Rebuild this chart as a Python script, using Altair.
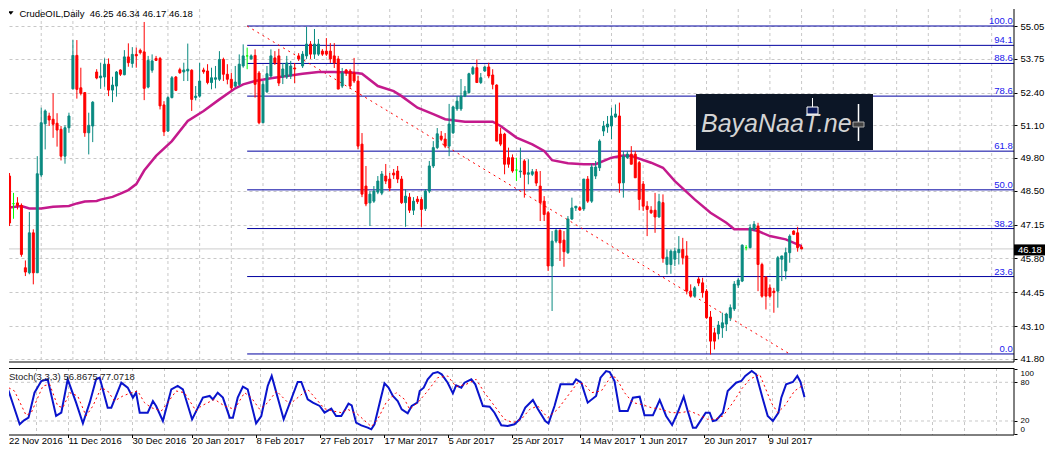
import altair as alt
import pandas as pd

FONT = "Liberation Sans"

# ---------------- candles (daily bars, index 0 = 22 Nov 2016) ----------------
opens = [49.08, 47.98, 48.01, 47.91, 45.43, 45.23, 46.82, 45.23, 49.12, 51.16,
         51.47, 51.34, 51.18, 50.94, 49.87, 51.00, 52.55, 53.88, 52.59, 52.40,
         50.80, 51.07, 53.22, 52.99, 53.02, 53.53, 52.50, 52.66, 53.30, 53.11,
         53.82, 53.56, 53.92, 54.08, 54.02, 52.62, 53.29, 53.76, 53.76, 51.91,
         50.87, 52.20, 53.02, 53.31, 53.22, 53.26, 53.29, 52.20, 52.26, 53.30,
         53.26, 52.80, 52.93, 52.93, 53.72, 53.13, 52.93, 52.66, 52.73, 53.46,
         53.86, 53.74, 53.88, 53.18, 51.20, 52.43, 53.06, 53.78, 53.86, 53.02,
         53.02, 53.06, 53.38, 53.86, 53.46, 53.86, 54.33, 53.93, 53.93, 54.05,
         54.05, 54.05, 53.86, 53.74, 52.66, 53.30, 53.26, 53.18, 52.86, 50.35,
         48.68, 48.01, 48.08, 48.44, 48.40, 49.08, 48.96, 49.20, 49.28, 48.96,
         48.02, 48.24, 47.72, 48.16, 48.15, 47.78, 48.48, 49.48, 50.21, 50.67,
         50.55, 50.27, 50.80, 51.75, 51.75, 52.26, 52.40, 53.15, 53.39, 52.80,
         53.26, 53.42, 53.10, 52.70, 50.75, 50.75, 49.81, 49.81, 49.32, 49.25,
         49.68, 49.15, 49.15, 49.25, 48.68, 48.08, 47.62, 45.50, 46.49, 46.92,
         46.53, 46.03, 47.37, 47.81, 47.82, 47.77, 48.96, 48.08, 49.08, 49.41,
         50.87, 51.03, 51.07, 51.43, 51.47, 48.81, 49.81, 49.95, 49.95, 49.61,
         48.76, 47.88, 47.72, 47.72, 47.45, 48.02, 45.56, 45.56, 45.77, 46.03,
         46.16, 45.90, 44.50, 44.30, 44.98, 44.83, 44.50, 43.47, 42.84, 42.80,
         43.04, 43.19, 43.44, 43.79, 44.74, 44.90, 46.23, 46.23, 46.96, 47.09,
         45.56, 45.06, 44.63, 44.50, 44.50, 45.77, 45.30, 46.03, 46.89, 46.82,
         46.25]
highs = [49.20, 48.41, 48.24, 47.99, 45.72, 47.65, 46.96, 49.87, 51.80, 51.73,
         51.60, 52.37, 51.58, 51.07, 51.10, 51.60, 54.49, 54.49, 53.39, 52.42,
         51.60, 52.06, 53.33, 53.59, 53.76, 53.76, 53.03, 53.26, 53.33, 54.09,
         54.36, 54.21, 54.19, 54.15, 55.21, 53.86, 53.92, 53.86, 53.82, 52.06,
         52.26, 53.06, 53.06, 53.39, 53.59, 54.35, 53.33, 52.66, 53.59, 53.39,
         53.53, 53.39, 53.46, 54.05, 53.79, 53.53, 53.19, 53.46, 53.92, 54.32,
         54.19, 53.92, 54.12, 53.26, 52.86, 53.46, 54.12, 54.05, 54.14, 53.58,
         53.86, 53.66, 53.58, 53.97, 54.05, 55.02, 54.45, 54.93, 54.53, 54.13,
         54.57, 54.37, 54.37, 53.86, 53.38, 53.34, 53.34, 53.78, 53.06, 50.79,
         49.48, 48.48, 48.68, 49.08, 49.28, 49.56, 49.20, 49.36, 49.48, 49.08,
         48.56, 48.40, 48.24, 48.28, 48.24, 48.56, 49.68, 50.47, 50.99, 50.87,
         50.79, 51.95, 51.87, 52.26, 52.94, 52.66, 53.19, 53.46, 53.72, 53.18,
         53.46, 53.59, 53.33, 52.73, 51.00, 50.80, 50.21, 49.94, 49.81, 50.21,
         49.75, 49.75, 49.36, 49.36, 49.28, 48.28, 47.69, 46.89, 46.97, 46.96,
         46.89, 47.49, 48.22, 47.88, 47.88, 48.96, 49.08, 49.56, 49.68, 50.54,
         51.27, 51.47, 51.80, 51.93, 52.00, 50.07, 50.07, 50.27, 50.07, 49.68,
         48.88, 48.08, 47.88, 48.41, 48.37, 48.35, 46.16, 46.16, 46.23, 46.69,
         46.62, 46.49, 44.77, 44.70, 45.06, 45.03, 44.58, 43.71, 43.04, 43.31,
         43.64, 43.64, 43.97, 44.90, 45.03, 46.36, 46.33, 47.16, 47.29, 47.22,
         45.63, 45.10, 44.77, 44.63, 45.90, 45.90, 46.23, 46.76, 46.92, 47.06,
         46.34]
lows = [47.09, 47.38, 47.75, 45.87, 45.10, 45.17, 44.77, 45.22, 49.04, 50.14,
        51.07, 50.60, 50.25, 49.70, 49.57, 50.80, 52.53, 52.16, 52.29, 50.64,
        49.94, 50.43, 52.93, 52.55, 52.63, 52.26, 52.02, 52.24, 53.06, 53.09,
        53.43, 53.39, 53.39, 53.92, 52.10, 52.57, 53.19, 53.66, 51.73, 50.67,
        50.84, 52.17, 52.46, 53.15, 52.86, 52.86, 51.67, 52.09, 52.20, 53.15,
        52.73, 52.53, 52.57, 52.86, 52.86, 52.73, 52.49, 52.62, 52.66, 53.39,
        53.33, 53.72, 52.20, 51.14, 51.19, 52.39, 52.99, 53.50, 52.66, 52.74,
        52.94, 52.94, 52.78, 53.66, 53.38, 53.74, 53.74, 53.74, 53.86, 53.86,
        53.86, 53.58, 53.38, 52.54, 52.58, 53.06, 52.54, 52.78, 50.15, 48.24,
        47.88, 47.09, 48.01, 48.36, 48.32, 48.76, 48.48, 48.96, 48.80, 47.97,
        47.06, 47.61, 47.53, 47.97, 47.06, 47.69, 48.40, 49.40, 50.15, 50.47,
        50.19, 49.87, 50.75, 51.67, 51.67, 52.22, 52.36, 53.10, 52.80, 52.74,
        53.23, 52.97, 52.53, 50.47, 50.27, 49.15, 49.41, 49.21, 48.88, 49.01,
        48.22, 48.75, 49.08, 48.68, 47.29, 47.29, 45.30, 43.71, 46.41, 45.70,
        45.47, 45.98, 47.33, 47.69, 47.69, 47.69, 48.01, 48.01, 48.96, 49.28,
        50.67, 50.80, 50.54, 51.40, 48.41, 48.22, 49.76, 49.55, 49.01, 47.72,
        47.69, 46.69, 47.57, 46.82, 47.42, 45.63, 45.17, 45.19, 45.50, 45.56,
        45.56, 44.37, 44.24, 44.24, 44.70, 44.24, 43.40, 41.98, 42.18, 42.58,
        42.64, 42.91, 43.31, 43.71, 44.63, 44.86, 46.12, 46.20, 46.89, 44.50,
        44.24, 43.77, 44.24, 43.64, 43.84, 44.90, 44.97, 45.63, 46.73, 46.07,
        46.17]
closes = [47.21, 47.98, 47.91, 45.96, 45.26, 46.82, 45.23, 49.17, 51.20, 51.67,
          51.31, 51.14, 50.91, 49.87, 51.00, 51.47, 53.88, 52.53, 52.37, 50.80,
          51.10, 52.02, 52.98, 53.06, 53.53, 52.50, 52.70, 53.22, 53.13, 53.82,
          53.59, 53.92, 53.86, 53.99, 52.57, 53.68, 53.66, 53.68, 51.87, 50.84,
          52.20, 52.99, 52.49, 53.19, 53.30, 53.33, 52.13, 52.26, 52.86, 53.23,
          52.80, 52.99, 52.99, 53.72, 53.13, 52.93, 52.59, 52.82, 53.53, 53.86,
          53.86, 53.86, 52.73, 51.20, 52.73, 53.15, 53.86, 53.58, 52.78, 53.34,
          53.58, 53.46, 53.34, 53.74, 53.93, 54.33, 53.93, 54.33, 54.33, 53.93,
          53.93, 53.74, 53.58, 52.54, 53.18, 53.18, 52.66, 52.86, 50.27, 48.36,
          47.97, 48.36, 48.48, 48.88, 49.16, 48.88, 48.60, 49.12, 48.96, 48.02,
          48.28, 47.72, 48.08, 48.06, 47.75, 48.48, 49.48, 50.21, 50.76, 50.54,
          50.27, 51.15, 51.83, 52.06, 52.26, 52.46, 53.15, 53.39, 52.80, 52.99,
          53.42, 53.06, 52.73, 50.47, 50.35, 49.55, 49.55, 49.28, 49.32, 49.28,
          49.15, 49.21, 49.25, 48.80, 48.02, 47.55, 45.50, 46.49, 46.92, 46.42,
          46.07, 47.37, 47.81, 47.88, 47.73, 48.96, 48.08, 49.44, 49.44, 50.47,
          51.07, 51.15, 51.47, 51.55, 48.80, 49.87, 49.95, 49.55, 49.01, 48.15,
          47.88, 47.75, 47.62, 47.45, 48.06, 45.80, 45.85, 46.09, 46.09, 46.16,
          45.83, 44.50, 44.30, 44.63, 44.82, 44.44, 43.44, 42.51, 42.51, 43.15,
          43.24, 43.59, 43.84, 44.78, 44.94, 46.33, 46.23, 47.02, 47.16, 45.56,
          44.30, 44.30, 44.30, 44.44, 45.83, 45.90, 46.03, 46.69, 46.76, 46.23,
          46.18]

# moving average, read at vertices (bar index, price)
ma_idx = [0, 3, 5, 8, 11, 15, 17, 19, 22, 23, 26, 28, 30, 32, 34, 37, 41, 45, 49, 53,
          57, 59, 62, 66, 70, 74, 78, 82, 87, 89, 93, 97, 99, 103, 107, 110, 115, 122,
          124, 128, 132, 135, 137, 141, 145, 148, 152, 155, 157, 162, 165, 168, 173,
          177, 181, 183, 187, 189, 192, 196, 200]
ma_val = [47.83, 47.89, 47.79, 47.79, 47.86, 47.89, 47.99, 48.07, 48.09, 48.14, 48.25,
          48.38, 48.52, 48.76, 49.30, 49.88, 50.47, 51.27, 51.67, 52.13, 52.57, 52.73,
          52.86, 52.97, 53.06, 53.15, 53.22, 53.22, 53.19, 53.15, 52.66, 52.46, 52.26,
          51.80, 51.54, 51.34, 51.24, 51.24, 51.07, 50.61, 50.34, 50.08, 49.71, 49.59,
          49.55, 49.55, 49.81, 49.90, 49.88, 49.61, 49.41, 48.88, 48.15, 47.62, 47.22,
          46.96, 46.96, 46.89, 46.69, 46.56, 46.29]

# Fibonacci retracement
fib_labels = ["100.0", "94.1", "88.6", "78.6", "61.8", "50.0", "38.2", "23.6", "0.0"]
fib_prices = [55.05, 54.28, 53.56, 52.26, 50.07, 48.53, 46.99, 45.08, 42.00]
fib_start = 60
trend_idx = [60, 197]
trend_price = [55.05, 42.00]

last_price = 46.18
price_ticks = [55.05, 53.75, 52.40, 51.10, 49.80, 48.50, 47.15, 45.80, 44.45, 43.10, 41.80]
grid_idx = list(range(8, 253, 8))
date_idx = [0, 16, 32, 47, 63, 79, 95, 111, 127, 144, 159, 175, 191]
date_labels = ["22 Nov 2016", "11 Dec 2016", "30 Dec 2016", "20 Jan 2017", "8 Feb 2017",
               "27 Feb 2017", "17 Mar 2017", "5 Apr 2017", "25 Apr 2017", "14 May 2017",
               "1 Jun 2017", "20 Jun 2017", "9 Jul 2017"]

# Stochastic (3,3,3) vertices
k_idx = [0, 3.8, 4.9, 6.0, 7.5, 9.2, 10.8, 12.9, 14.2, 15.8, 17.9, 19.6, 21.3, 22.9, 23.8,
         25.8, 26.7, 29.2, 30.8, 32.1, 32.9, 33.8, 35.8, 37.1, 37.9, 39.6, 41.7, 43.3, 44.6,
         46.9, 49.6, 51.3, 52.1, 53.3, 54.6, 56.3, 57.1, 58.3, 59.6, 60.8, 62.9, 64.2, 65.8,
         66.8, 69.8, 73.3, 74.2, 75.8, 77.1, 78.8, 80.0, 81.7, 82.9, 84.2, 85.2, 86.0, 86.8,
         87.9, 89.2, 90.8, 91.7, 92.5, 93.8, 95.0, 96.0, 97.1, 98.3, 99.3, 100.8, 101.8,
         103.2, 103.8, 104.8, 105.8, 107.1, 108.3, 109.3, 110.8, 112.1, 112.9, 114.2, 115.0,
         116.7, 117.7, 119.6, 121.3, 122.5, 124.2, 125.8, 127.5, 128.8, 130.2, 132.1, 133.3,
         135.2, 136.0, 137.5, 139.0, 142.1, 142.9, 144.2, 145.8, 147.9, 149.0, 150.4, 151.3,
         152.5, 153.8, 155.8, 157.1, 158.8, 160.0, 162.1, 163.8, 165.4, 166.9, 168.3, 169.8,
         170.8, 172.1, 172.9, 175.3, 176.3, 177.1, 177.9, 179.6, 180.8, 182.9, 184.2, 185.2,
         186.8, 187.9, 189.6, 190.8, 192.1, 193.5, 194.2, 195.4, 197.1, 198.2, 199.0, 200.0]
k_val = [85.6, 14.9, 21.0, 25.2, 63.9, 82.0, 84.6, 27.8, 32.9, 84.6, 48.4, 16.4, 48.4, 84.6,
         87.2, 40.7, 40.7, 79.4, 71.7, 56.2, 63.9, 32.9, 32.9, 51.0, 43.3, 20.0, 69.1, 74.3,
         69.1, 22.6, 56.2, 58.8, 53.6, 63.9, 56.2, 25.2, 25.2, 56.2, 73.2, 69.1, 16.4, 27.8,
         74.3, 89.8, 22.6, 80.5, 80.5, 53.6, 48.4, 43.3, 32.9, 39.1, 27.8, 27.8, 38.1, 46.9,
         44.3, 17.4, 13.3, 9.7, 7.1, 14.9, 48.4, 78.4, 71.7, 58.8, 51.0, 38.1, 31.9, 43.3,
         48.4, 66.5, 71.7, 84.6, 93.9, 96.0, 92.4, 79.4, 62.9, 75.3, 71.7, 79.4, 84.6, 76.8,
         43.3, 42.2, 32.9, 13.3, 12.3, 14.9, 22.6, 40.7, 52.6, 39.1, 20.0, 16.4, 43.3, 76.8,
         76.8, 84.6, 79.4, 48.4, 58.8, 87.2, 97.5, 96.0, 82.0, 35.5, 35.5, 56.2, 57.7, 28.8,
         28.8, 52.6, 27.8, 13.8, 32.9, 57.7, 35.5, 9.7, 9.7, 32.9, 32.9, 20.0, 21.0, 32.9,
         66.5, 79.4, 82.0, 89.8, 97.5, 92.4, 53.6, 27.8, 20.0, 32.9, 56.2, 76.8, 80.5, 89.8,
         80.5, 56.9]
d_idx = [0, 2.5, 5.4, 6.7, 9.6, 11.3, 13.3, 14.6, 16.3, 18.3, 20.4, 22.1, 24.2, 25.8, 27.5,
         29.6, 31.7, 33.3, 35.0, 36.7, 39.2, 40.8, 42.9, 45.0, 47.9, 49.2, 52.5, 55.0, 57.5,
         60.0, 61.7, 63.8, 65.8, 68.0, 71.3, 75.8, 80.0, 82.1, 84.2, 85.8, 88.3, 91.7, 93.3,
         95.4, 97.9, 100.0, 101.3, 103.3, 105.8, 108.3, 110.8, 112.9, 115.4, 117.9, 120.0,
         122.5, 125.0, 127.1, 129.2, 131.3, 133.3, 135.8, 138.3, 140.8, 143.3, 145.0, 146.7,
         149.2, 151.7, 152.9, 155.0, 157.1, 159.2, 161.7, 164.2, 166.7, 169.2, 171.3, 173.3,
         175.8, 177.5, 179.6, 182.1, 184.2, 186.3, 188.8, 190.0, 191.7, 193.3, 195.0, 197.5,
         200.0]
d_val = [75.3, 66.5, 28.8, 32.9, 74.3, 76.8, 43.3, 40.7, 63.9, 58.8, 27.8, 43.3, 71.7, 66.5,
         51.0, 58.8, 63.9, 66.5, 48.4, 40.7, 35.5, 48.4, 66.5, 63.9, 35.5, 43.3, 53.6, 43.3,
         38.1, 63.9, 56.2, 38.1, 48.4, 66.5, 45.8, 69.1, 39.1, 35.5, 32.9, 38.1, 30.3, 11.3,
         22.6, 48.4, 63.9, 53.6, 38.1, 48.4, 66.5, 87.2, 89.8, 73.2, 76.8, 84.6, 63.9, 43.3,
         22.6, 17.4, 22.6, 38.1, 43.3, 25.2, 38.1, 58.8, 79.4, 76.8, 63.9, 66.5, 89.8, 87.2,
         63.9, 48.4, 45.8, 40.7, 38.1, 32.9, 32.9, 35.5, 30.3, 22.6, 22.6, 27.8, 48.4, 69.1,
         84.6, 92.4, 74.3, 48.4, 32.9, 43.3, 66.5, 77.1]

# ---------------- frames ----------------
dirs = ["up" if c > o else ("down" if c < o else "doji") for o, c in zip(opens, closes)]
candles = pd.DataFrame({"i": range(len(opens)), "o": opens, "h": highs, "l": lows,
                        "c": closes, "dir": dirs})
ma_df = pd.DataFrame({"i": ma_idx, "v": ma_val})
fib_df = pd.DataFrame({"label": fib_labels, "price": fib_prices, "start": fib_start})
trend_df = pd.DataFrame({"i": trend_idx, "p": trend_price})
grid_df = pd.DataFrame({"i": grid_idx})
k_df = pd.DataFrame({"i": k_idx, "v": k_val})
d_df = pd.DataFrame({"i": d_idx, "v": d_val})
dates_df = pd.DataFrame({"i": date_idx[1:], "t": date_labels[1:]})
one = pd.DataFrame({"a": [0]})

W, H = 1005, 353
SH, SH2 = 67, 76          # stochastic plot height, and height incl. date strip
xs = alt.Scale(domain=[1.125, 252.375], nice=False, zero=False)
ys = alt.Scale(domain=[41.68, 55.7265], nice=False, zero=False)
sys_ = alt.Scale(domain=[-15.66, 102.17], nice=False, zero=False)

yaxis = alt.Axis(orient="right", values=price_ticks, format=".2f", grid=True, gridDash=[3, 3],
                 gridColor="#c8c8c8", domain=False, ticks=True, tickSize=3, tickColor="black",
                 labelPadding=3, labelFont=FONT, labelFontSize=9.5, labelColor="black",
                 labelOverlap=False, labelFlush=False, title=None)
syaxis = alt.Axis(orient="right", values=[0, 20, 80, 100], grid=False, domain=False, ticks=True,
                  tickSize=3, tickColor="black", labelPadding=3, labelFont=FONT,
                  labelFontSize=8, labelColor="black", title=None, labelOverlap=False,
                  labelFlush=False,
                  labelBaseline={"condition": [{"test": "datum.value == 100", "value": "top"},
                                               {"test": "datum.value == 0", "value": "bottom"}],
                                 "value": "middle"})


def X(f):
    return alt.X(f, type="quantitative", scale=xs, axis=None)


def Y(f):
    return alt.Y(f, type="quantitative", scale=ys, axis=yaxis)


def SY(f):
    return alt.Y(f, type="quantitative", scale=sys_, axis=syaxis)


cs = alt.Scale(domain=["up", "down", "doji"], range=["#0a8a80", "#ff0000", "#00ff00"])

vgrid = alt.Chart(grid_df).mark_rule(color="#c8c8c8", strokeDash=[3, 3], clip=True).encode(x=X("i"))
pline = alt.Chart(pd.DataFrame({"p": [last_price]})).mark_rule(color="#cccccc").encode(y=Y("p"))
fib = alt.Chart(fib_df).mark_rule(color="#0000a0").encode(x=X("start"), x2=alt.value(W), y=Y("price"))
fibt = alt.Chart(fib_df).mark_text(align="right", baseline="alphabetic", dy=-2, font=FONT,
                                   fontSize=9.5, color="#2020ee").encode(
    x=alt.value(1003.7), y=Y("price"), text="label")
trend = alt.Chart(trend_df).mark_line(color="#ff0000", strokeDash=[2, 4], strokeWidth=1, clip=True).encode(
    x=X("i"), y=Y("p"))
ma = alt.Chart(ma_df).mark_line(color="#c41a8c", strokeWidth=2.5, clip=True).encode(x=X("i"), y=Y("v"))
wicks = alt.Chart(candles).mark_rule(strokeWidth=1, clip=True).encode(
    x=X("i"), y=Y("l"), y2="h", color=alt.Color("dir:N", scale=cs, legend=None))
bodies = alt.Chart(candles).mark_bar(width=2, strokeWidth=1, clip=True).encode(
    x=X("i"), y=Y("o"), y2="c",
    color=alt.Color("dir:N", scale=cs, legend=None),
    stroke=alt.Stroke("dir:N", scale=cs, legend=None))

logo_box = alt.Chart(one).mark_rect(color="#0c1626").encode(
    x=alt.value(687), x2=alt.value(864), y=alt.value(85), y2=alt.value(141))
logo_txt = alt.Chart(pd.DataFrame({"t": ["BayaNaaT.ne"]})).mark_text(
    align="left", baseline="alphabetic", font=FONT, fontSize=25, fontStyle="italic",
    color="#d4d4d4").encode(x=alt.value(692), y=alt.value(123), text="t")
logo_c1w = alt.Chart(one).mark_rule(color="white", strokeWidth=1).encode(
    x=alt.value(803.5), y=alt.value(89), y2=alt.value(98))
logo_c1 = alt.Chart(one).mark_rect(color="#0a1a5a", stroke="white", strokeWidth=1).encode(
    x=alt.value(798), x2=alt.value(809), y=alt.value(98), y2=alt.value(105))
logo_c2w = alt.Chart(one).mark_rule(color="white", strokeWidth=1.5).encode(
    x=alt.value(849.5), y=alt.value(95), y2=alt.value(132))
logo_c2 = alt.Chart(one).mark_rect(color="#444444", stroke="#aaaaaa", strokeWidth=1).encode(
    x=alt.value(844), x2=alt.value(855), y=alt.value(113), y2=alt.value(118))

title_t = alt.Chart(pd.DataFrame({"t": ["CrudeOIL,Daily\u00a0\u00a046.25 46.34 46.17 46.18"]})).mark_text(
    align="left", baseline="top", font=FONT, fontSize=9.5, color="black").encode(
    x=alt.value(10.5), y=alt.value(0.3), text="t")
tri = alt.Chart(one).mark_point(shape="M-1,-0.6L1,-0.6L0,0.6Z", filled=True, color="black",
                                size=30, opacity=1, clip=True).encode(x=alt.value(1.8), y=alt.value(4))
pbox = alt.Chart(pd.DataFrame({"p": [last_price]})).mark_tick(
    orient="horizontal", color="black", thickness=11, size=31, yOffset=1, opacity=1).encode(
    x=alt.value(1020.5), y=Y("p"))
ptxt = alt.Chart(pd.DataFrame({"p": [last_price], "t": ["46.18"]})).mark_text(
    align="left", baseline="middle", font=FONT, fontSize=9.5, color="white", dy=1).encode(
    x=alt.value(1009), y=Y("p"), text="t")

border_r = alt.Chart(one).mark_rule(color="black").encode(x=alt.value(W), y=alt.value(0), y2=alt.value(H))
border_b = alt.Chart(one).mark_rule(color="black").encode(x=alt.value(0), x2=alt.value(W), y=alt.value(H))

main = alt.layer(vgrid, pline, fib, fibt, trend, ma, wicks, bodies, logo_box, logo_txt,
                 logo_c1w, logo_c1, logo_c2w, logo_c2, title_t, tri, pbox, ptxt,
                 border_r, border_b).properties(width=W, height=H)

# ---------------- stochastic panel (with date strip kept inside the clip) ----------------
sgrid = alt.Chart(grid_df).mark_rule(color="#c8c8c8", strokeDash=[3, 3], clip=True).encode(
    x=X("i"), y=alt.value(0), y2=alt.value(SH))
slev = alt.Chart(pd.DataFrame({"v": [20, 80]})).mark_rule(color="#c8c8c8", strokeDash=[3, 3]).encode(
    y=SY("v"), x=alt.value(0), x2=alt.value(W))
kline = alt.Chart(k_df).mark_line(color="#0a14cc", strokeWidth=2, clip=True).encode(x=X("i"), y=SY("v"))
dline = alt.Chart(d_df).mark_line(color="#ff0000", strokeDash=[2, 3], strokeWidth=1, clip=True).encode(
    x=X("i"), y=SY("v"))
stxt = alt.Chart(pd.DataFrame({"t": ["Stoch(3,3,3) 56.8675 77.0718"]})).mark_text(
    align="left", baseline="middle", font=FONT, fontSize=9.5, color="#222222", clip=True).encode(
    x=alt.value(0), y=alt.value(8.5), text="t")
dticks = alt.Chart(dates_df).mark_rule(color="black", clip=True).encode(
    x=X("i"), y=alt.value(SH), y2=alt.value(SH + 3))
dlabels = alt.Chart(dates_df).mark_text(align="left", baseline="alphabetic", font=FONT, fontSize=9.5,
                                        color="black", clip=True).encode(
    x=X("i"), y=alt.value(SH2 - 0.5), text="t")
first_lbl = alt.Chart(pd.DataFrame({"t": [date_labels[0]]})).mark_text(
    align="left", baseline="alphabetic", font=FONT, fontSize=9.5, color="black", clip=True).encode(
    x=alt.value(0), y=alt.value(SH2 - 0.5), text="t")
sb_t = alt.Chart(one).mark_rule(color="black").encode(x=alt.value(0), x2=alt.value(W), y=alt.value(0.5))
sb_r = alt.Chart(one).mark_rule(color="black").encode(x=alt.value(W), y=alt.value(0), y2=alt.value(SH))
sb_b = alt.Chart(one).mark_rule(color="black").encode(x=alt.value(0), x2=alt.value(W), y=alt.value(SH))

stoch = alt.layer(sgrid, slev, kline, dline, stxt, dticks, dlabels, first_lbl,
                  sb_t, sb_r, sb_b).properties(width=W, height=SH2)

chart = alt.vconcat(main, stoch, spacing=3).properties(
    padding={"left": 0, "top": 0, "right": 0, "bottom": 0},
    background="white",
).configure_view(stroke=None)

chart.save("out.html", embed_options={"renderer": "svg", "actions": False})
